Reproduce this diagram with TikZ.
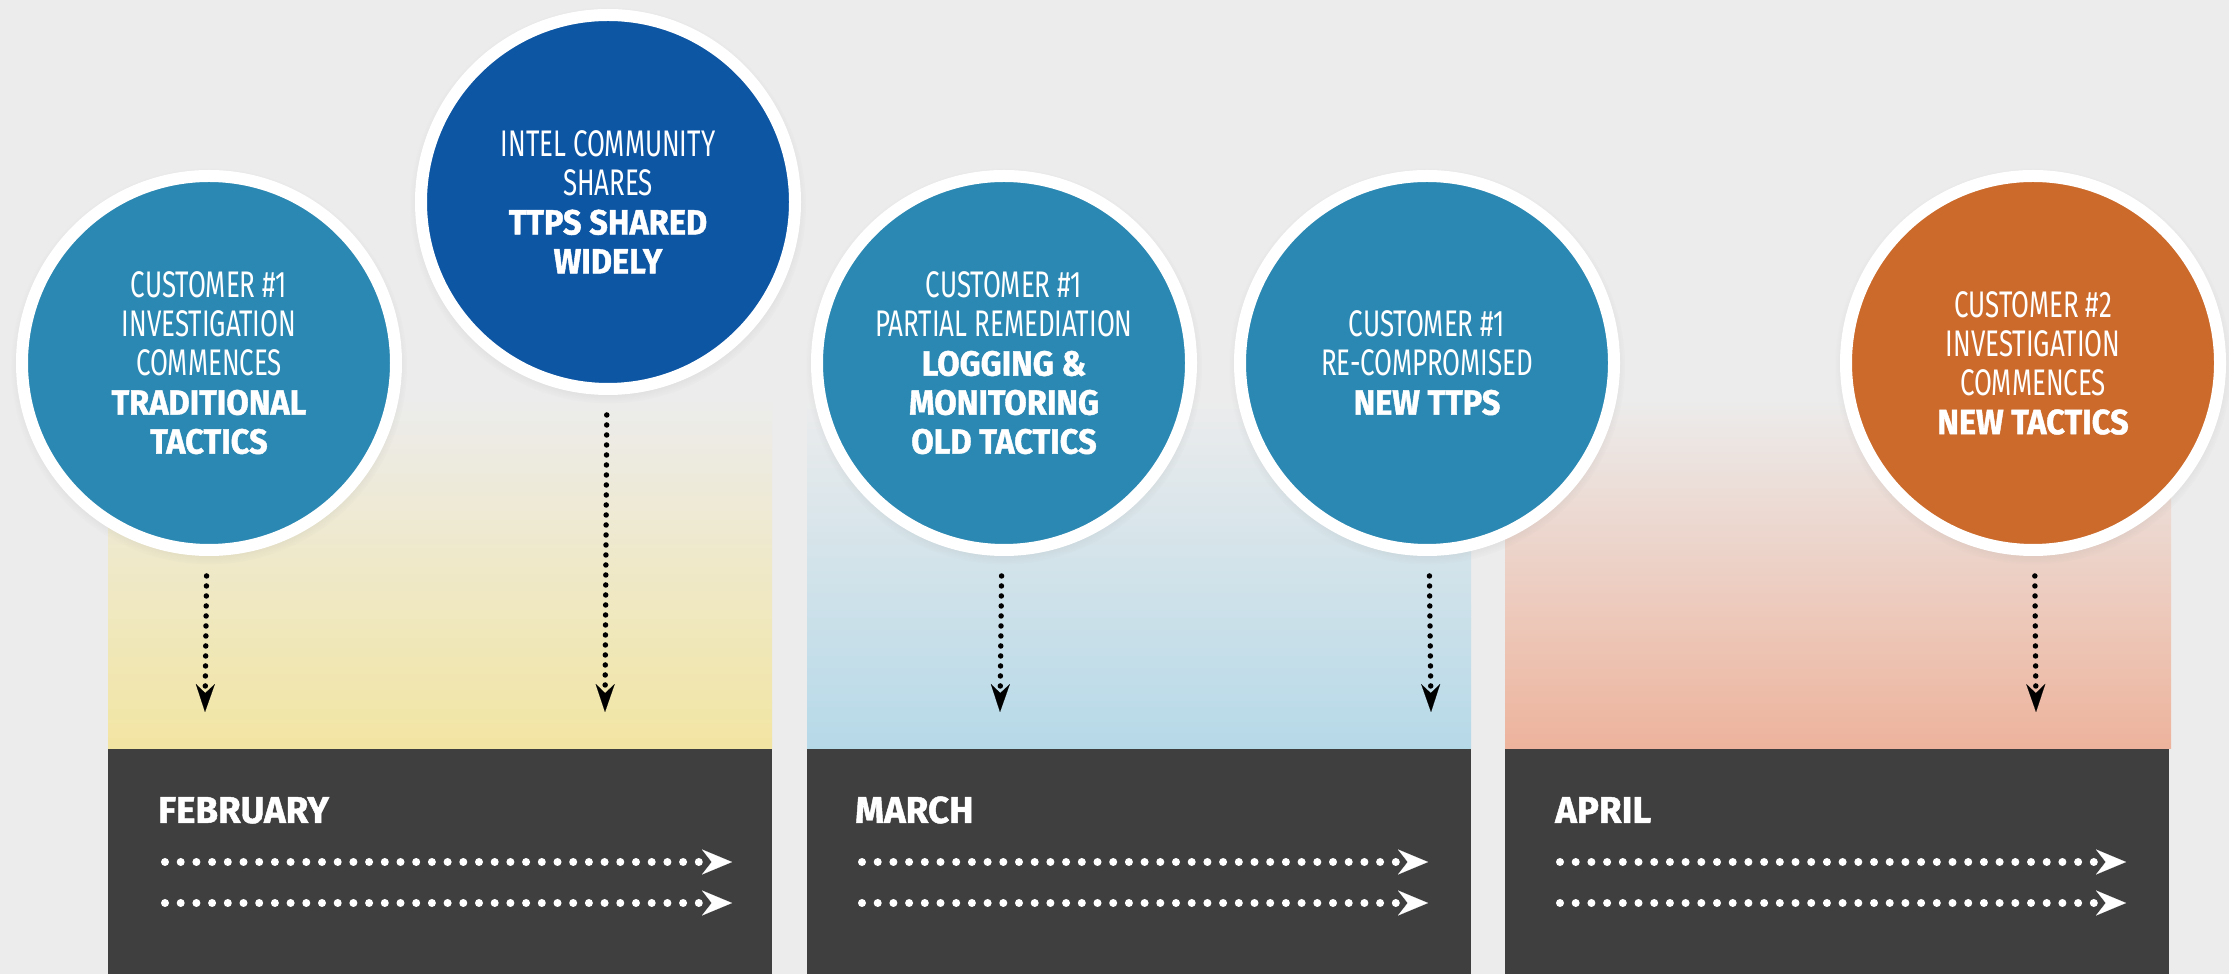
\documentclass[tikz,border=0pt]{standalone}
\usepackage{fontspec}
\setmainfont{Fira Sans}
\newfontfamily\condlight[FakeStretch=0.70]{Fira Sans}
\newfontfamily\condheavy[FakeStretch=0.93,FakeBold=1.2]{Fira Sans}
\newfontfamily\monthfont[FakeStretch=0.98,FakeBold=1.2]{Fira Sans}
\usetikzlibrary{arrows.meta,shadows}

\definecolor{paper}{HTML}{ECECEC}
\definecolor{teal}{HTML}{2B88B2}
\definecolor{intelblue}{HTML}{0D56A4}
\definecolor{rust}{HTML}{CB6A2B}
\definecolor{boxgrey}{HTML}{3F3F3F}
\definecolor{febband}{HTML}{F2E5A2}
\definecolor{marband}{HTML}{B6D9E8}
\definecolor{aprband}{HTML}{EDB39C}

\newcommand\ltline[1]{{\condlight #1}}
\newcommand\hvline[1]{{\condheavy\bfseries\fontsize{35}{39}\selectfont #1}}

\tikzset{
  event/.style={circle, draw=white, line width=12pt, minimum size=374pt,
    inner sep=0pt, text=white, align=center,
    font=\fontsize{37}{39}\selectfont,
    circular drop shadow={shadow xshift=0pt, shadow yshift=-3pt,
      shadow scale=1.06, opacity=0.3}},
  monthbox/.style={fill=boxgrey, draw=none, minimum width=664pt,
    minimum height=225pt, inner sep=0pt, anchor=south west},
  monthname/.style={text=white, inner sep=0pt, anchor=base west,
    font=\monthfont\bfseries\fontsize{37.5}{40}\selectfont},
  drop/.style={black, line width=5.5pt, line cap=round,
    dash pattern=on 0pt off 10pt, shorten <=20pt,
    -{Stealth[length=28pt,width=19pt,line width=0.1pt]}},
  flow/.style={white, line width=8pt, line cap=round,
    dash pattern=on 0pt off 15.7pt,
    -{Stealth[length=30pt,width=25pt,line width=0.1pt]}},
}

\begin{document}
\begin{tikzpicture}[x=1pt,y=1pt]
  \useasboundingbox (0,0) rectangle (2229,974);
  \fill[paper] (0,0) rectangle (2229,974);

  % colour washes above each month
  \shade[top color=paper, middle color=febband!45!white, bottom color=febband]
    (108,225) rectangle (772,575);
  \shade[top color=paper, middle color=marband!45!white, bottom color=marband]
    (807,225) rectangle (1471,575);
  \shade[top color=paper, middle color=aprband!45!white, bottom color=aprband]
    (1505,225) rectangle (2171,575);

  % month panels
  \node[monthbox] (feb) at (108,0) {};
  \node[monthbox] (mar) at (807,0) {};
  \node[monthbox] (apr) at (1505,0) {};

  \node[monthname] (febname) at (158,151) {FEBRUARY};
  \node[monthname] (marname) at (855,151) {MARCH};
  \node[monthname] (aprname) at (1555,151) {APRIL};

  % timeline arrows in each panel
  \coordinate (f1s) at (165,112);  \coordinate (f1e) at (732,112);
  \coordinate (f2s) at (165,71);   \coordinate (f2e) at (732,71);
  \coordinate (m1s) at (862,112);  \coordinate (m1e) at (1428,112);
  \coordinate (m2s) at (862,71);   \coordinate (m2e) at (1428,71);
  \coordinate (a1s) at (1560,112); \coordinate (a1e) at (2126,112);
  \coordinate (a2s) at (1560,71);  \coordinate (a2e) at (2126,71);
  \foreach \s/\e in {f1s/f1e,f2s/f2e,m1s/m1e,m2s/m2e,a1s/a1e,a2s/a2e}
    \draw[flow] (\s) -- (\e);

  % events
  \node[event, fill=teal] (c1) at (209,611)
    {\ltline{CUSTOMER \#1}\\\ltline{INVESTIGATION}\\\ltline{COMMENCES}\\
     \hvline{TRADITIONAL}\\\hvline{TACTICS}};
  \node[event, fill=intelblue] (c2) at (608,772)
    {\ltline{INTEL COMMUNITY}\\\ltline{SHARES}\\
     \hvline{TTPS SHARED}\\\hvline{WIDELY}};
  \node[event, fill=teal] (c3) at (1004,611)
    {\ltline{CUSTOMER \#1}\\\ltline{PARTIAL REMEDIATION}\\
     \hvline{LOGGING \&}\\\hvline{MONITORING}\\\hvline{OLD TACTICS}};
  \node[event, fill=teal] (c4) at (1427,611)
    {\ltline{CUSTOMER \#1}\\\ltline{RE-COMPROMISED}\\\hvline{NEW TTPS}};
  \node[event, fill=rust] (c5) at (2033,611)
    {\ltline{CUSTOMER \#2}\\\ltline{INVESTIGATION}\\\ltline{COMMENCES}\\
     \hvline{NEW TACTICS}};

  % drop lines from events to the timeline
  \coordinate (h1) at (205,262);
  \coordinate (h2) at (605,262);
  \coordinate (h3) at (1000,262);
  \coordinate (h4) at (1431,262);
  \coordinate (h5) at (2036,262);
  \draw[drop] (c1) -- (h1);
  \draw[drop] (c2) -- (h2);
  \draw[drop] (c3) -- (h3);
  \draw[drop] (c4) -- (h4);
  \draw[drop] (c5) -- (h5);
\end{tikzpicture}
\end{document}
